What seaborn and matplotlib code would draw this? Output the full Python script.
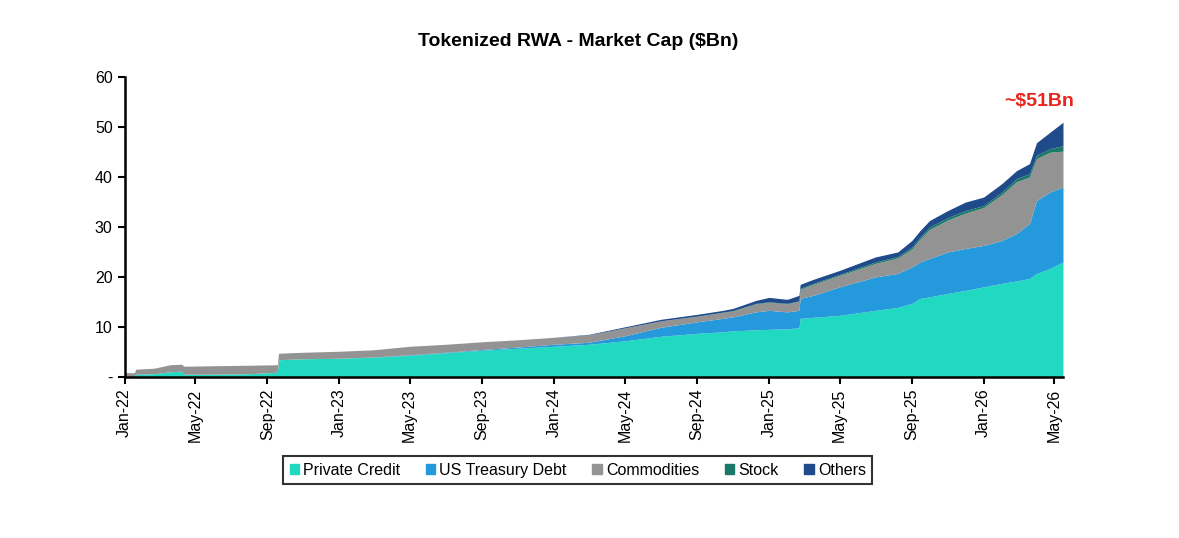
import pandas as pd
import numpy as np
import matplotlib
matplotlib.use("Agg")
import matplotlib.pyplot as plt
import matplotlib.dates as mdates
from matplotlib.patches import Patch
import seaborn as sns

# values, $Bn per category (layer thickness)
dates = ["2022-01-01", "2022-01-18", "2022-01-20", "2022-02-20", "2022-03-20",
         "2022-04-08", "2022-04-12", "2022-06-01", "2022-08-01", "2022-09-18",
         "2022-09-20", "2022-11-01", "2023-01-01", "2023-03-01", "2023-05-01",
         "2023-07-01", "2023-09-01", "2023-11-01", "2024-01-01", "2024-03-01",
         "2024-05-01", "2024-07-01", "2024-09-01", "2024-10-15", "2024-11-01",
         "2024-12-10", "2025-01-01", "2025-02-01", "2025-02-21", "2025-02-23",
         "2025-03-17", "2025-05-01", "2025-07-01", "2025-08-08", "2025-09-01",
         "2025-09-15", "2025-10-01", "2025-11-01", "2025-12-01", "2026-01-01",
         "2026-02-01", "2026-02-26", "2026-03-20", "2026-04-01", "2026-04-24",
         "2026-05-16"]

private_credit = [0.0, 0.0, 0.5, 0.6, 1.0, 1.1, 0.5, 0.5, 0.6, 0.9,
                  3.4, 3.6, 3.7, 3.9, 4.3, 4.8, 5.3, 5.7, 6.1, 6.5,
                  7.2, 8.1, 8.7, 9.0, 9.2, 9.4, 9.5, 9.6, 9.8, 11.7,
                  11.9, 12.3, 13.3, 13.9, 14.7, 15.7, 16.0, 16.7, 17.3, 18.0,
                  18.7, 19.2, 19.7, 20.7, 21.7, 23.0]
us_treasury = [0.0, 0.0, 0.0, 0.0, 0.0, 0.0, 0.0, 0.0, 0.0, 0.0,
               0.0, 0.0, 0.0, 0.05, 0.1, 0.1, 0.15, 0.25, 0.4, 0.4,
               1.0, 1.8, 2.3, 2.7, 2.8, 3.6, 3.8, 3.4, 3.5, 4.0,
               4.4, 5.7, 6.7, 6.8, 7.3, 7.3, 7.7, 8.3, 8.4, 8.3,
               8.6, 9.5, 11.0, 14.6, 15.3, 15.0]
commodities = [0.8, 0.8, 1.0, 1.1, 1.4, 1.4, 1.6, 1.7, 1.7, 1.5,
               1.3, 1.3, 1.4, 1.45, 1.7, 1.6, 1.55, 1.45, 1.4, 1.5,
               1.6, 1.3, 1.1, 1.2, 1.2, 1.6, 1.6, 1.6, 1.8, 1.8,
               2.2, 2.3, 2.7, 3.1, 3.6, 4.6, 5.8, 6.4, 7.1, 7.6,
               9.2, 10.4, 9.3, 8.4, 8.0, 7.2]
stock = [0.0, 0.0, 0.0, 0.0, 0.0, 0.0, 0.0, 0.0, 0.0, 0.0,
         0.0, 0.0, 0.0, 0.0, 0.0, 0.0, 0.0, 0.0, 0.0, 0.0,
         0.0, 0.0, 0.05, 0.05, 0.05, 0.1, 0.1, 0.1, 0.1, 0.2,
         0.2, 0.2, 0.3, 0.3, 0.4, 0.4, 0.5, 0.5, 0.5, 0.4,
         0.5, 0.6, 0.7, 0.7, 0.7, 1.1]
others = [0.0, 0.0, 0.0, 0.0, 0.0, 0.0, 0.0, 0.0, 0.0, 0.0,
          0.0, 0.0, 0.0, 0.0, 0.0, 0.0, 0.0, 0.0, 0.0, 0.1,
          0.2, 0.3, 0.35, 0.35, 0.45, 0.6, 0.9, 0.8, 1.1, 0.8,
          0.8, 0.8, 1.0, 0.9, 1.3, 1.3, 1.3, 1.4, 1.7, 1.7,
          1.7, 1.6, 2.0, 2.5, 3.3, 4.7]

series_names = ["Private Credit", "US Treasury Debt", "Commodities", "Stock", "Others"]
colors = ["#21D9C1", "#2499DB", "#939393", "#1B7A67", "#1F4B8A"]
y_ticks = [0, 10, 20, 30, 40, 50, 60]
y_tick_labels = ["-", "10", "20", "30", "40", "50", "60"]

df = pd.DataFrame({
    "date": pd.to_datetime(dates),
    "Private Credit": private_credit,
    "US Treasury Debt": us_treasury,
    "Commodities": commodities,
    "Stock": stock,
    "Others": others,
})

sns.set_style("white")
plt.rcParams["font.family"] = ["Liberation Sans", "DejaVu Sans"]
plt.rcParams["text.color"] = "black"

fig = plt.figure(figsize=(11.79, 5.38), dpi=100)
ax = fig.add_axes([0.1056, 0.2998, 0.796, 0.5565])

ax.stackplot(df["date"], *[df[c] for c in series_names],
             colors=colors, labels=series_names, linewidth=0)

ax.set_xlim(df["date"].iloc[0], df["date"].iloc[-1])
ax.set_ylim(0, 60)
ax.set_yticks(y_ticks)
ax.set_yticklabels(y_tick_labels)
ax.xaxis.set_major_locator(mdates.MonthLocator(bymonth=[1, 5, 9]))
ax.xaxis.set_major_formatter(mdates.DateFormatter("%b-%y"))
plt.setp(ax.get_xticklabels(), rotation=90)
ax.tick_params(axis="both", direction="out", length=5, width=1.5,
               labelsize=11.5, colors="black", bottom=True, left=True)

sns.despine(ax=ax)
for side in ["left", "bottom"]:
    ax.spines[side].set_color("black")
    ax.spines[side].set_linewidth(1.8)

fig.text(0.49, 0.922, "Tokenized RWA - Market Cap ($Bn)", ha="center", va="center",
         fontsize=14, fontweight="bold", color="black")

ax.annotate("~$51Bn", xy=(df["date"].iloc[-1], 55.1), xytext=(8, 0),
            textcoords="offset points", ha="right", va="center",
            fontsize=14, fontweight="bold", color="#E8241C")

handles = [Patch(facecolor=c, edgecolor=c) for c in colors]
leg = fig.legend(handles, series_names, loc="center", bbox_to_anchor=(0.49, 0.126),
                 ncol=5, frameon=True, fancybox=False, fontsize=11.5,
                 handlelength=0.6, handleheight=0.6, handletextpad=0.25,
                 columnspacing=1.6, borderpad=0.4, borderaxespad=0)
for t in leg.get_texts():
    t.set_color("black")
leg.get_frame().set_edgecolor("black")
leg.get_frame().set_linewidth(1.5)

fig.savefig("out.png", dpi=100)
